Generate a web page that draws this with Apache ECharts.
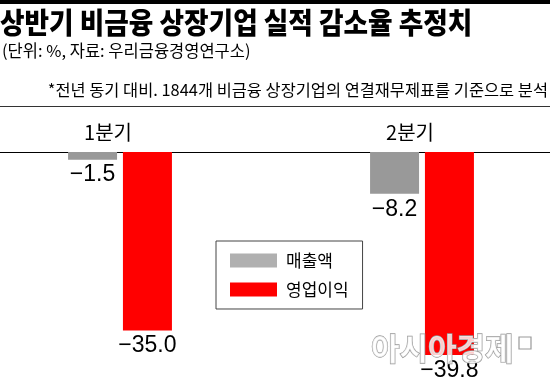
<!DOCTYPE html>
<html><head><meta charset="utf-8">
<script src="https://cdn.jsdelivr.net/npm/echarts@6/dist/echarts.min.js"></script>
<style>html,body{margin:0;padding:0;background:#fff}#c{width:550px;height:382px}</style>
</head><body><div id="c"></div>
<script>
const categories = ['1분기', '2분기'];
const seriesNames = ['매출액', '영업이익'];
const salesValues = [-1.5, -8.2];
const profitValues = [-35.0, -39.8];
const titleText = '상반기 비금융 상장기업 실적 감소율 추정치';
const subtitleText = '(단위: %, 자료: 우리금융경영연구소)';
const noteText = '*전년 동기 대비. 1844개 비금융 상장기업의 연결재무제표를 기준으로 분석';

const KR = '"Noto Sans CJK KR", "Noto Sans", sans-serif';
const NUM = '"Liberation Sans", Arial, sans-serif';
const fmt = p => '\u2212' + Math.abs(p.value).toFixed(1);

const chart = echarts.init(document.getElementById('c'), null, {renderer: 'canvas'});
chart.setOption({
  backgroundColor: '#fff',
  animation: false,
  graphic: [
    {type: 'rect', shape: {x: 0, y: 0, width: 550, height: 4}, style: {fill: '#000'}},
    {type: 'text', x: 0, y: 8, scaleX: 0.92, style: {text: titleText, font: '900 29px ' + KR, fill: '#000', textVerticalAlign: 'top'}},
    {type: 'text', x: 2, y: 42, style: {text: subtitleText, font: '16.5px ' + KR, fill: '#000', textVerticalAlign: 'top'}},
    {type: 'text', x: 548, y: 82, style: {text: noteText, font: '16.4px ' + KR, fill: '#000', textAlign: 'right', textVerticalAlign: 'top'}},
    {type: 'line', shape: {x1: 0, y1: 106.5, x2: 550, y2: 106.5}, style: {stroke: '#333', lineWidth: 1}},
    {type: 'text', x: 371, y: 333, z: 50, style: {text: '아시아경제', font: 'bold 31px ' + KR, fill: 'rgba(255,255,255,0.8)', stroke: '#999', lineWidth: 1.3, textVerticalAlign: 'top'}},
    {type: 'rect', z: 50, shape: {x: 519, y: 337, width: 12, height: 12}, style: {fill: 'none', stroke: '#999', lineWidth: 1.2}}
  ],
  legend: {
    orient: 'vertical', left: 216, top: 241,
    padding: [11, 14, 11, 14],
    itemWidth: 47, itemHeight: 14, itemGap: 12,
    icon: 'rect', selectedMode: false,
    borderColor: '#444', borderWidth: 1,
    textStyle: {fontSize: 17, fontFamily: KR, color: '#000', padding: [0, 0, 0, 4]},
    data: [
      {name: seriesNames[0], itemStyle: {color: '#b0b0b0'}},
      {name: seriesNames[1], itemStyle: {color: '#ff0000'}}
    ]
  },
  grid: {left: -31, right: -23, top: 152, bottom: 26, containLabel: false, outerBoundsMode: 'none'},
  xAxis: {
    type: 'category', position: 'top', data: categories,
    axisLine: {lineStyle: {color: '#000', width: 1}},
    axisTick: {show: false},
    axisLabel: {fontSize: 20, fontFamily: KR, color: '#000', margin: 10, padding: [0, 24, 0, 0]}
  },
  yAxis: {type: 'value', min: -40, max: 0, show: false, splitLine: {show: false}},
  series: [
    {name: seriesNames[0], type: 'bar', data: salesValues, barWidth: 49, barGap: '12%',
     itemStyle: {color: '#999999'},
     label: {show: true, position: 'bottom', distance: 4, formatter: fmt, fontSize: 23, fontFamily: NUM, color: '#000'}},
    {name: seriesNames[1], type: 'bar', data: profitValues, barWidth: 49, barGap: '12%',
     itemStyle: {color: '#ff0000'},
     label: {show: true, position: 'bottom', distance: 4, formatter: fmt, fontSize: 23, fontFamily: NUM, color: '#000'}}
  ]
});
</script></body></html>
